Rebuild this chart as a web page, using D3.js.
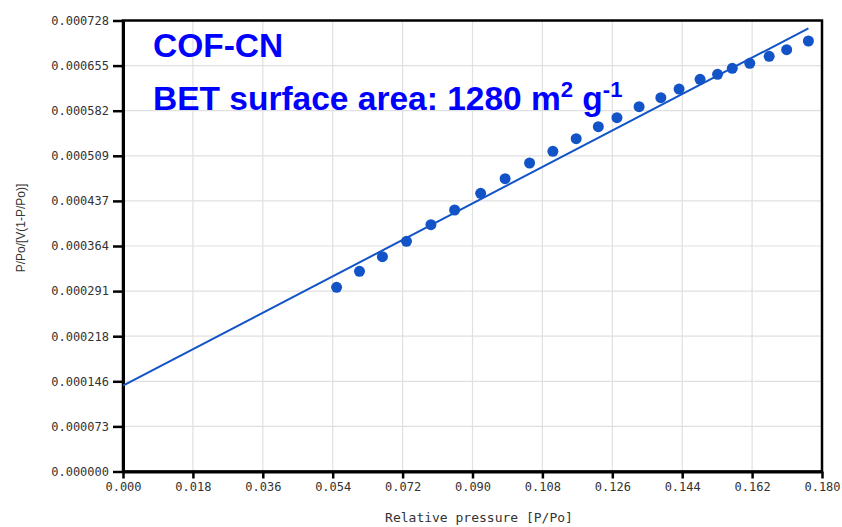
<!DOCTYPE html>
<html>
<head>
<meta charset="utf-8">
<script src="https://cdn.jsdelivr.net/npm/d3@7/dist/d3.min.js"></script>
<style>
  html, body { margin: 0; padding: 0; background: #fff; }
  svg { display: block; }
</style>
</head>
<body>
<svg id="chart" width="842" height="527"></svg>
<script>
// BET plot data: relative pressure vs. P/Po/[V(1-P/Po)]
const relPressure = [0.0550, 0.0609, 0.0668, 0.0730, 0.0793, 0.0854, 0.0921, 0.0984,
  0.1047, 0.1107, 0.1167, 0.1224, 0.1272, 0.1329, 0.1385, 0.1432, 0.1486, 0.1531,
  0.1569, 0.1614, 0.1664, 0.1709, 0.1765];
const betValue = [0.0002973, 0.0003232, 0.0003467, 0.0003716, 0.0003984, 0.0004221,
  0.0004491, 0.0004726, 0.0004980, 0.0005169, 0.0005372, 0.0005566, 0.0005711,
  0.0005889, 0.0006034, 0.0006174, 0.0006331, 0.0006412, 0.0006508, 0.0006589,
  0.0006702, 0.0006809, 0.0006949];
// Linear fit end points
const fitX = [0, 0.1765];
const fitY = [0.0001385, 0.0007154];

const xTicks = [0, 0.018, 0.036, 0.054, 0.072, 0.090, 0.108, 0.126, 0.144, 0.162, 0.180];
const xTickLabels = ["0.000", "0.018", "0.036", "0.054", "0.072", "0.090", "0.108",
  "0.126", "0.144", "0.162", "0.180"];
const yTicks = [0, 0.0000728, 0.0001456, 0.0002184, 0.0002912, 0.000364,
  0.0004368, 0.0005096, 0.0005824, 0.0006552, 0.000728];
const yTickLabels = ["0.000000", "0.000073", "0.000146", "0.000218", "0.000291",
  "0.000364", "0.000437", "0.000509", "0.000582", "0.000655", "0.000728"];

const sampleName = "COF-CN";
const xTitle = "Relative pressure [P/Po]";
const yTitle = "P/Po/[V(1-P/Po)]";

const W = 842, H = 527;
const margin = { left: 123, right: 20, top: 20.5, bottom: 55.5 };
const iw = W - margin.left - margin.right;
const ih = H - margin.top - margin.bottom;

const svg = d3.select("#chart");
const g = svg.append("g").attr("transform", `translate(${margin.left},${margin.top})`);

const x = d3.scaleLinear().domain([0, 0.18]).range([0, iw]);
const y = d3.scaleLinear().domain([0, 0.000728]).range([ih, 0]);

const blue = "#1254c8";
const monoFont = "'DejaVu Sans Mono', 'Liberation Mono', monospace";

// grid
g.append("g").selectAll("line").data(xTicks.slice(1, -1)).join("line")
  .attr("x1", d => x(d)).attr("x2", d => x(d))
  .attr("y1", 0).attr("y2", ih)
  .attr("stroke", "#e0e0e0").attr("stroke-width", 1.2);
g.append("g").selectAll("line").data(yTicks.slice(1, -1)).join("line")
  .attr("y1", d => y(d)).attr("y2", d => y(d))
  .attr("x1", 0).attr("x2", iw)
  .attr("stroke", "#e0e0e0").attr("stroke-width", 1.2);

// frame
g.append("rect").attr("x", 0).attr("y", 0).attr("width", iw).attr("height", ih)
  .attr("fill", "none").attr("stroke", "#000").attr("stroke-width", 2.5);

// axes
const xAxis = g.append("g").attr("transform", `translate(0,${ih})`)
  .call(d3.axisBottom(x).tickValues(xTicks).tickFormat((d, i) => xTickLabels[i])
    .tickSizeInner(7).tickSizeOuter(0).tickPadding(4));
const yAxis = g.append("g")
  .call(d3.axisLeft(y).tickValues(yTicks).tickFormat((d, i) => yTickLabels[i])
    .tickSizeInner(10).tickSizeOuter(0).tickPadding(4));

[xAxis, yAxis].forEach(ax => {
  ax.select(".domain").attr("stroke", "#000").attr("stroke-width", 3);
  ax.selectAll(".tick line").attr("stroke", "#000").attr("stroke-width", 2.5);
  ax.selectAll(".tick text").attr("fill", "#333")
    .style("font-family", monoFont).style("font-size", "12px");
});

// fit line
g.append("line")
  .attr("x1", x(fitX[0])).attr("y1", y(fitY[0]))
  .attr("x2", x(fitX[1])).attr("y2", y(fitY[1]))
  .attr("stroke", blue).attr("stroke-width", 2);

// data points
g.append("g").selectAll("circle").data(relPressure).join("circle")
  .attr("cx", d => x(d))
  .attr("cy", (d, i) => y(betValue[i]))
  .attr("r", 5.5)
  .attr("fill", blue);

// axis titles
svg.append("text")
  .attr("x", 479).attr("y", 521.5)
  .attr("text-anchor", "middle")
  .style("font-family", monoFont).style("font-size", "13px").attr("fill", "#333")
  .text(xTitle);
svg.append("text")
  .attr("transform", "translate(25,228) rotate(-90)")
  .attr("text-anchor", "middle")
  .style("font-family", "'Liberation Sans', Arial, sans-serif").style("font-size", "12px").attr("fill", "#333")
  .text(yTitle);

// annotation
const ann = svg.append("g")
  .style("font-family", "'Liberation Sans', Arial, sans-serif")
  .style("font-weight", "bold")
  .attr("fill", "#0000ff");
ann.append("text").attr("x", 153).attr("y", 57).style("font-size", "33.5px").text(sampleName);
const t2 = ann.append("text").attr("x", 153).attr("y", 109.5).style("font-size", "33.5px");
t2.append("tspan").text("BET surface area: 1280 m");
t2.append("tspan").attr("dy", -13).style("font-size", "22px").text("2");
t2.append("tspan").attr("dy", 13).text(" g");
t2.append("tspan").attr("dy", -13).style("font-size", "22px").text("-1");
</script>
</body>
</html>
